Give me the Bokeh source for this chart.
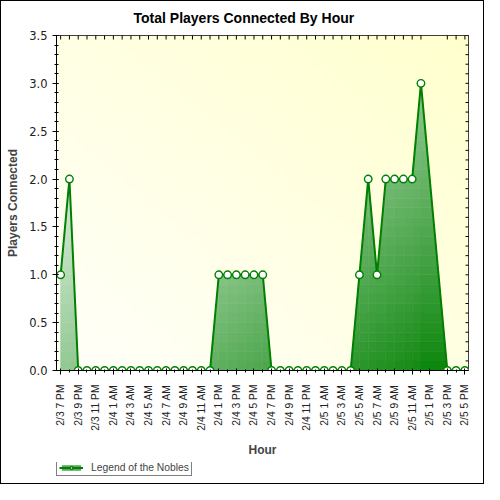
import numpy as np
from bokeh.plotting import figure
from bokeh.layouts import column
from bokeh.models import (FixedTicker, Range1d, Legend, LegendItem,
                          NumeralTickFormatter, ColumnDataSource)
from bokeh.embed import file_html
from bokeh.resources import INLINE

# hours since 2/3 7 PM (no samples logged at 2/5 12 PM and 2/5 1 PM)
hours = [0, 1, 2, 3, 4, 5, 6, 7, 8, 9, 10, 11, 12, 13, 14, 15, 16, 17,
         18, 19, 20, 21, 22, 23, 24, 25, 26, 27, 28, 29, 30, 31, 32, 33,
         34, 35, 36, 37, 38, 39, 40, 41, 44, 45, 46]
players = [1, 2, 0, 0, 0, 0, 0, 0, 0, 0, 0, 0, 0, 0, 0, 0, 0, 0,
           1, 1, 1, 1, 1, 1, 0, 0, 0, 0, 0, 0, 0, 0, 0, 0,
           1, 2, 1, 2, 2, 2, 2, 3, 0, 0, 0]
tick_hours = [0, 2, 4, 6, 8, 10, 12, 14, 16, 18, 20, 22, 24, 26, 28, 30,
              32, 34, 36, 38, 40, 42, 44, 46]
tick_labels = ["2/3 7 PM", "2/3 9 PM", "2/3 11 PM", "2/4 1 AM", "2/4 3 AM",
               "2/4 5 AM", "2/4 7 AM", "2/4 9 AM", "2/4 11 AM", "2/4 1 PM",
               "2/4 3 PM", "2/4 5 PM", "2/4 7 PM", "2/4 9 PM", "2/4 11 PM",
               "2/5 1 AM", "2/5 3 AM", "2/5 5 AM", "2/5 7 AM", "2/5 9 AM",
               "2/5 11 AM", "2/5 1 PM", "2/5 3 PM", "2/5 5 PM"]
y_ticks = [0, 0.5, 1, 1.5, 2, 2.5, 3, 3.5]
y_minor = [round(0.1 * k, 1) for k in range(36)]
series_name = "Legend of the Nobles"

X0, X1 = -0.47, 46.41
Y0, Y1 = 0, 3.5
GREEN = "#008000"
FONT = "Liberation Sans"


def clip_band(poly, lo, hi):
    # cut a polygon to the horizontal band lo <= y <= hi
    def clip(pts, inside, yv):
        out = []
        for k in range(len(pts)):
            cur, prev = pts[k], pts[k - 1]
            if inside(cur) != inside(prev):
                f = (yv - prev[1]) / (cur[1] - prev[1])
                out.append((prev[0] + f * (cur[0] - prev[0]), yv))
            if inside(cur):
                out.append(cur)
        return out
    pts = clip(poly, lambda q: q[1] >= lo, lo)
    if pts:
        pts = clip(pts, lambda q: q[1] <= hi, hi)
    return pts


def area_color(x, y):
    # diagonal gradient: white at top-left, green at bottom-right of the frame
    t = 0.5 * (x - X0) / (X1 - X0) + 0.5 * (Y1 - y) / (Y1 - Y0)
    t = min(1.0, t ** 1.25)
    r = int(round(255 * (1 - t)))
    g = int(round(255 - 127 * t))
    return "#%02x%02x%02x" % (r, g, r)


chart = figure(width=484, height=462,
               x_range=Range1d(X0, X1), y_range=Range1d(Y0, Y1),
               output_backend="svg", toolbar_location=None,
               title="Total Players Connected By Hour",
               x_axis_label="Hour", y_axis_label="Players Connected",
               min_border_left=56, min_border_right=16, min_border_top=33,
               min_border_bottom=92)

chart.background_fill_color = "white"
chart.border_fill_color = "white"
chart.outline_line_color = "black"
chart.outline_line_width = 1

# pale yellow background gradient
ny, nx = 40, 60
gx, gy = np.meshgrid(np.linspace(0, 1, nx), np.linspace(0, 1, ny))
tb = 0.5 * gx + 0.5 * gy
img = np.empty((ny, nx), dtype=np.uint32)
view = img.view(dtype=np.uint8).reshape((ny, nx, 4))
view[:, :, 0] = 255
view[:, :, 1] = 255
view[:, :, 2] = (250 - 44 * tb).astype(np.uint8)
view[:, :, 3] = 255
chart.image_rgba(image=[img], x=X0, y=Y0, dw=X1 - X0, dh=Y1 - Y0)

# gradient area under the line, built from band pieces of each segment
xs, ys, cols = [], [], []
bands = np.arange(0, 3.5, 0.1)
for k in range(len(hours) - 1):
    xa, xb = hours[k], hours[k + 1]
    ya, yb = players[k], players[k + 1]
    if ya == 0 and yb == 0:
        continue
    poly = [(xa, 0.0), (xa, float(ya)), (xb, float(yb)), (xb, 0.0)]
    for lo in bands:
        piece = clip_band(poly, lo, lo + 0.1)
        if len(piece) < 3:
            continue
        px = [q[0] for q in piece]
        py = [q[1] for q in piece]
        xs.append(px)
        ys.append(py)
        cols.append(area_color(np.mean(px), np.mean(py)))
chart.patches(xs=xs, ys=ys, fill_color=cols, line_color=cols, line_width=0.6)

# inward ticks on the top and right frame edges (half of each dash is clipped)
chart.scatter(x=hours, y=[Y1] * len(hours), marker="dash", angle=np.pi / 2,
              size=8, line_color="black", line_width=1)
chart.scatter(x=[X1] * len(y_minor), y=y_minor, marker="dash", size=6,
              line_color="black", line_width=1)

src = ColumnDataSource(dict(x=hours, y=players))
chart.line("x", "y", source=src, line_color=GREEN, line_width=2)
chart.scatter("x", "y", source=src, marker="circle", size=7.5,
              fill_color="white", line_color=GREEN, line_width=1.4)

# title
chart.title.text_font = FONT
chart.title.text_font_size = "14px"
chart.title.text_font_style = "bold"
chart.title.text_color = "black"
chart.title.align = "left"
chart.title.offset = 77
chart.title.vertical_align = "middle"
chart.title.standoff = 17

# grids
chart.xgrid.ticker = FixedTicker(ticks=tick_hours)
chart.ygrid.ticker = FixedTicker(ticks=y_ticks)
chart.grid.grid_line_color = "#c4c4c4"
chart.grid.grid_line_dash = "1 3"
chart.grid.grid_line_width = 1

# bottom axis
xa_ = chart.xaxis[0]
xa_.ticker = FixedTicker(ticks=tick_hours, minor_ticks=hours)
xa_.major_label_overrides = dict(zip(tick_hours, tick_labels))
xa_.major_label_orientation = np.pi / 2
xa_.major_label_text_font = FONT
xa_.major_label_text_font_size = "10.3px"
xa_.major_label_standoff = 10
xa_.major_tick_out = 4
xa_.major_tick_in = 2
xa_.minor_tick_out = 2
xa_.minor_tick_in = 1
xa_.axis_label_text_font = FONT
xa_.axis_label_text_font_size = "12px"
xa_.axis_label_text_font_style = "bold"
xa_.axis_label_standoff = 9

# left axis
ya_ = chart.yaxis[0]
ya_.ticker = FixedTicker(ticks=y_ticks, minor_ticks=y_minor)
ya_.formatter = NumeralTickFormatter(format="0.0")
ya_.major_label_text_font = "DejaVu Sans"
ya_.major_label_text_font_size = "11.5px"
ya_.major_label_standoff = 5
ya_.major_tick_out = 4
ya_.major_tick_in = 2
ya_.minor_tick_out = 2
ya_.minor_tick_in = 2
ya_.axis_label_text_font = FONT
ya_.axis_label_text_font_size = "12px"
ya_.axis_label_text_font_style = "bold"
ya_.axis_label_standoff = 6

for ax in (chart.xaxis[0], chart.yaxis[0]):
    ax.axis_line_color = "black"
    ax.major_tick_line_color = "black"
    ax.minor_tick_line_color = "black"
    ax.major_label_text_color = "#222222"

# legend strip under the chart (its frame lines up with the chart frame)
key = figure(width=484, height=22, x_range=Range1d(0, 1), y_range=Range1d(0, 1),
             output_backend="svg", toolbar_location=None,
             min_border=0, min_border_left=0, min_border_right=0,
             min_border_top=0, min_border_bottom=0)
key.axis.visible = False
key.grid.visible = False
key.outline_line_color = None
key.background_fill_color = "white"
key.border_fill_color = "white"
# swatch sources sit outside the strip's ranges; only their legend glyphs show
k_fill = key.varea(x=[-3, -2], y1=[-3, -3], y2=[-2, -2], fill_color="#5aab5a")
k_line = key.line(x=[-3, -2], y=[-3, -3], line_color=GREEN, line_width=2)
k_mark = key.scatter(x=[-3], y=[-3], marker="circle", size=7.5, fill_color="white",
                     line_color=GREEN, line_width=1.4)

legend = Legend(items=[LegendItem(label=series_name,
                                  renderers=[k_fill, k_line, k_mark])],
                location=(0, 8), orientation="horizontal")
legend.border_line_color = "black"
legend.border_line_width = 1
legend.background_fill_color = "white"
legend.label_text_font = FONT
legend.label_text_font_size = "10.3px"
legend.label_standoff = 8
legend.label_height = 10
legend.glyph_width = 24
legend.glyph_height = 7
legend.padding = 2
legend.margin = 0
legend.spacing = 0
key.add_layout(legend)

p = column(chart, key, spacing=0)
p.stylesheets = [":host { position: relative; } :host::after { content: ''; "
                 "position: absolute; inset: 0; border: 1px solid black; "
                 "pointer-events: none; z-index: 50; }"]

open("out.html", "w").write(file_html(p, INLINE))
